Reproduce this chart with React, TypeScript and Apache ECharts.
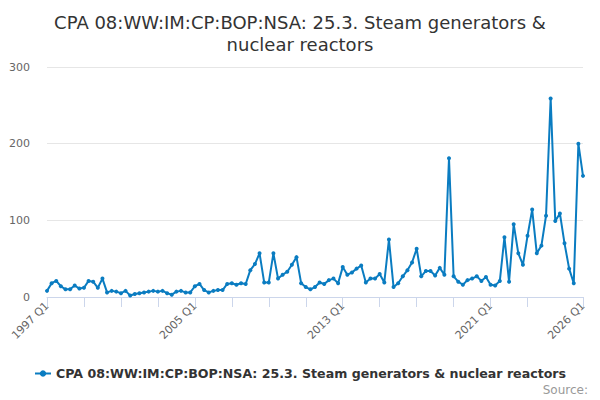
import React, { useEffect, useRef } from "react";
import * as echarts from "echarts";

const TITLE = "CPA 08:WW:IM:CP:BOP:NSA: 25.3. Steam generators &\nnuclear reactors";
const SERIES_NAME = "CPA 08:WW:IM:CP:BOP:NSA: 25.3. Steam generators & nuclear reactors";

// Quarterly categories 1997 Q1 .. 2026 Q1
const START_YEAR = 1997;
const QUARTER_COUNT = 117;
const quarters: string[] = [];
for (let i = 0; i < QUARTER_COUNT; i++) {
  quarters.push(`${START_YEAR + Math.floor(i / 4)} Q${(i % 4) + 1}`);
}

// Values
const values = [
  8, 18, 21, 14, 10, 10, 15, 11, 12, 21, 20, 12, 24, 6, 8, 7,
  5, 8, 2, 4, 5, 6, 7, 8, 7, 8, 5, 3, 7, 8, 6, 6,
  14, 17, 9, 6, 8, 9, 9, 17, 18, 16, 18, 17, 35, 43, 57, 19,
  19, 57, 24, 29, 33, 42, 52, 18, 13, 10, 13, 19, 17, 22, 24, 18,
  39, 29, 32, 37, 41, 19, 24, 24, 30, 19, 75, 13, 18, 27, 35, 45,
  63, 27, 34, 34, 28, 38, 29, 181, 27, 20, 16, 22, 24, 27, 21, 26,
  16, 15, 21, 78, 20, 95, 57, 42, 80, 114, 57, 67, 106, 259, 99, 109,
  70, 37, 18, 200, 158,
];

const yTicks = [0, 100, 200, 300];
const labelIdx = [0, 32, 64, 96, 116];

const LINE_COLOR = "#0a7cc1";

export default function App() {
  const ref = useRef<HTMLDivElement>(null);

  useEffect(() => {
    if (!ref.current) return;
    const chart = echarts.init(ref.current, undefined, { renderer: "svg" });
    const font = "DejaVu Sans, sans-serif";

    chart.setOption({
      animation: false,
      backgroundColor: "#ffffff",
      title: {
        text: TITLE,
        left: "center",
        top: 6,
        textStyle: { fontFamily: font, fontSize: 18, fontWeight: "normal", color: "#333333", lineHeight: 22 },
      },
      legend: {
        bottom: 15,
        left: "center",
        itemWidth: 16,
        itemHeight: 8,
        textStyle: { fontFamily: font, fontSize: 12.6, fontWeight: "bold", color: "#333333" },
        data: [SERIES_NAME],
      },
      graphic: [
        {
          type: "text",
          right: 12,
          bottom: 4,
          style: { text: "Source:", fontFamily: font, fontSize: 12, fill: "#999999" },
        },
      ],
      grid: { left: 47, right: 17, top: 67, bottom: 103, containLabel: false },
      xAxis: {
        type: "category",
        data: quarters,
        boundaryGap: false,
        axisLine: { lineStyle: { color: "#ccd6eb" } },
        axisTick: {
          alignWithLabel: true,
          length: 10,
          lineStyle: { color: "#ccd6eb" },
          interval: (i: number) => (i % 8 === 0 && i <= 104) || i === QUARTER_COUNT - 1,
        },
        axisLabel: {
          rotate: 45,
          fontFamily: font,
          fontSize: 11,
          color: "#666666",
          margin: 7,
          interval: (i: number) => labelIdx.includes(i),
        },
        splitLine: { show: false },
      },
      yAxis: {
        type: "value",
        min: yTicks[0],
        max: yTicks[yTicks.length - 1],
        interval: 100,
        axisLine: { show: false },
        axisTick: { show: false },
        axisLabel: { fontFamily: font, fontSize: 11, color: "#666666", margin: 17 },
        splitLine: { lineStyle: { color: "#e6e6e6" } },
      },
      series: [
        {
          name: SERIES_NAME,
          type: "line",
          data: values,
          color: LINE_COLOR,
          lineStyle: { width: 2, color: LINE_COLOR },
          symbol: "circle",
          symbolSize: 4,
          showSymbol: true,
          showAllSymbol: true,
          itemStyle: { color: LINE_COLOR },
        },
      ],
    });

    return () => chart.dispose();
  }, []);

  return (
    <div
      ref={ref}
      style={{ position: "absolute", left: 0, top: 0, width: 600, height: 400 }}
    />
  );
}
